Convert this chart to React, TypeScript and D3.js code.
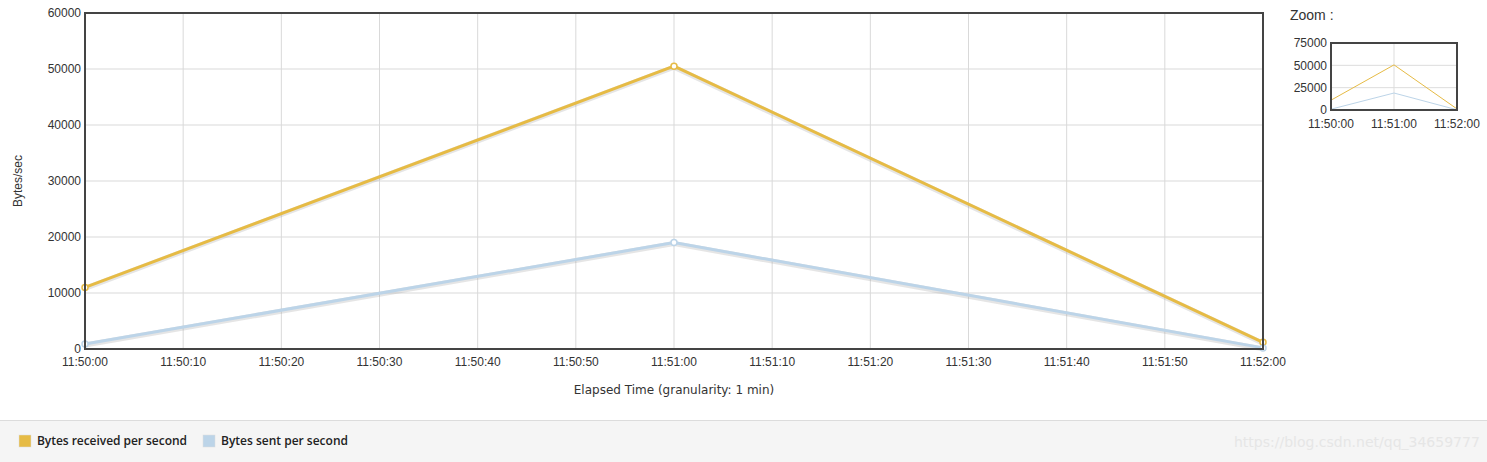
import { useMemo } from 'react';
import * as d3 from 'd3';

const times = ['11:50:00', '11:51:00', '11:52:00'];
const received = [11000, 50500, 1200];
const sent = [900, 19000, 200];
const seriesNames = ['Bytes received per second', 'Bytes sent per second'];
const seriesColors = ['#e6bb45', '#bcd4e8'];
const yTicks = [0, 10000, 20000, 30000, 40000, 50000, 60000];
const zoomYTicks = [0, 25000, 50000, 75000];
const xTickLabels = [
    '11:50:00', '11:50:10', '11:50:20', '11:50:30', '11:50:40', '11:50:50',
    '11:51:00', '11:51:10', '11:51:20', '11:51:30', '11:51:40', '11:51:50', '11:52:00',
];

const parse = d3.timeParse('%H:%M:%S');
const fmt = d3.timeFormat('%H:%M:%S');

export default function App() {
    const width = 1487;
    const height = 462;
    const margin = { left: 85, right: 224, top: 13, bottom: 113 };
    const font = 'Arial, "Liberation Sans", sans-serif';

    const dates = times.map((t) => parse(t) as Date);
    const series = [received, sent];

    const x = useMemo(
        () =>
            d3
                .scaleTime()
                .domain(d3.extent(dates) as [Date, Date])
                .range([margin.left, width - margin.right]),
        []
    );
    const y = d3.scaleLinear().domain([0, 60000]).range([height - margin.bottom, margin.top]);
    const xTicks = xTickLabels.map((t) => parse(t) as Date);

    const zx = d3.scaleTime().domain(d3.extent(dates) as [Date, Date]).range([1331, 1457]);
    const zy = d3.scaleLinear().domain([0, 75000]).range([110, 43]);

    const line = d3
        .line<number>()
        .x((_d, i) => x(dates[i]))
        .y((d) => y(d));
    const zline = d3
        .line<number>()
        .x((_d, i) => zx(dates[i]))
        .y((d) => zy(d));

    const plotBottom = height - margin.bottom;

    return (
        <svg
            width={width}
            height={height}
            style={{ position: 'absolute', left: 0, top: 0 }}
            fontFamily={font}
        >
            <rect width={width} height={height} fill="#fff" />
            {/* grid */}
            {xTicks.map((t, i) => (
                <line key={i} x1={x(t)} x2={x(t)} y1={margin.top} y2={plotBottom} stroke="#d9d9d9" />
            ))}
            {yTicks.map((t) => (
                <line key={t} x1={margin.left} x2={width - margin.right} y1={y(t)} y2={y(t)} stroke="#d9d9d9" />
            ))}
            {/* series */}
            {series.map((s, k) => (
                <g key={k}>
                    <path
                        d={line(s) || ''}
                        fill="none"
                        stroke="#999"
                        strokeOpacity={0.25}
                        strokeWidth={5}
                        transform="translate(0,1)"
                    />
                    <path d={line(s) || ''} fill="none" stroke={seriesColors[k]} strokeWidth={3} />
                    {s.map((v, i) => (
                        <circle
                            key={i}
                            cx={x(dates[i])}
                            cy={y(v)}
                            r={3}
                            fill="#fff"
                            stroke={seriesColors[k]}
                            strokeWidth={1.5}
                        />
                    ))}
                </g>
            ))}
            <rect
                x={margin.left}
                y={margin.top}
                width={width - margin.right - margin.left}
                height={plotBottom - margin.top}
                fill="none"
                stroke="#444"
                strokeWidth={2}
            />
            {/* y ticks */}
            {yTicks.map((t) => (
                <text key={t} x={margin.left - 4} y={y(t)} dy="0.35em" textAnchor="end" fontSize={12} fill="#333">
                    {t}
                </text>
            ))}
            {xTicks.map((t, i) => (
                <text key={i} x={x(t)} y={plotBottom + 17} textAnchor="middle" fontSize={12} fill="#333">
                    {fmt(t)}
                </text>
            ))}
            <text
                transform={`translate(22, ${(margin.top + plotBottom) / 2}) rotate(-90)`}
                textAnchor="middle"
                fontSize={12}
                fill="#333"
            >
                Bytes/sec
            </text>
            <text
                x={(margin.left + width - margin.right) / 2}
                y={394}
                textAnchor="middle"
                fontSize={12}
                fill="#333"
                fontFamily='"DejaVu Sans", sans-serif'
            >
                Elapsed Time (granularity: 1 min)
            </text>

            {/* zoom inset */}
            <text x={1290} y={20} fontSize={14} fill="#333">
                Zoom :
            </text>
            {zoomYTicks.map((t) => (
                <line key={t} x1={1331} x2={1457} y1={zy(t)} y2={zy(t)} stroke="#ddd" />
            ))}
            <line x1={zx(dates[1])} x2={zx(dates[1])} y1={43} y2={110} stroke="#ddd" />
            {series.map((s, k) => (
                <path key={k} d={zline(s) || ''} fill="none" stroke={seriesColors[k]} strokeWidth={1} />
            ))}
            <rect x={1331} y={43} width={126} height={67} fill="none" stroke="#444" strokeWidth={2} />
            {zoomYTicks.map((t) => (
                <text key={t} x={1327} y={zy(t)} dy="0.35em" textAnchor="end" fontSize={12} fill="#333">
                    {t}
                </text>
            ))}
            {dates.map((d, i) => (
                <text key={i} x={zx(d)} y={128} textAnchor="middle" fontSize={12} fill="#333">
                    {fmt(d)}
                </text>
            ))}

            {/* legend */}
            <rect x={0} y={420} width={width} height={42} fill="#f5f5f5" />
            <line x1={0} x2={width} y1={420.5} y2={420.5} stroke="#dcdcdc" />
            {seriesNames.map((n, k) => {
                const lx = k === 0 ? 19 : 203;
                return (
                    <g key={k}>
                        <rect x={lx} y={435} width={12} height={12} fill={seriesColors[k]} stroke="#ddd" strokeWidth={0.5} />
                        <text
                            x={lx + 18}
                            y={445}
                            fontSize={12}
                            fontWeight={600}
                            fill="#222"
                            fontFamily='"Open Sans", sans-serif'
                            textLength={k === 0 ? 150 : 127}
                        >
                            {n}
                        </text>
                    </g>
                );
            })}
            <text x={1234} y={447} fontSize={14} fill="#e6e6e6" fontFamily='"DejaVu Sans", sans-serif'>
                https://blog.csdn.net/qq_34659777
            </text>
        </svg>
    );
}
